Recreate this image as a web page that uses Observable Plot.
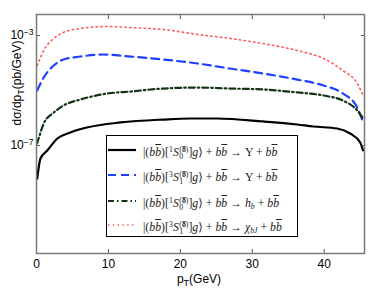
<!DOCTYPE html>
<html><head><meta charset="utf-8">
<script src="https://cdn.jsdelivr.net/npm/d3@7"></script>
<script src="https://cdn.jsdelivr.net/npm/@observablehq/plot@0.6"></script>
<style>
body{margin:0;background:#fff;}
#wrap{position:relative;width:374px;height:294px;font-family:"Liberation Sans",Arial,sans-serif;color:#000;}
#wrap svg{position:absolute;left:0;top:0;}
.lbl{position:absolute;white-space:nowrap;font-size:12px;}
.leg{position:absolute;left:106px;top:135px;width:192px;height:102px;border:1px solid #000;background:#fff;box-sizing:border-box;font-family:"Liberation Serif","DejaVu Serif",serif;font-size:11.8px;color:#222;}
.row{position:absolute;left:0;height:20px;width:190px;}
.row svg{position:absolute;left:5px;top:0;}
.row .t{position:absolute;left:36px;top:2px;white-space:nowrap;line-height:16px;}
.ov{text-decoration:overline;}
.ss{display:inline-flex;flex-direction:column;vertical-align:middle;font-size:7.8px;line-height:7.8px;margin-left:0.5px;font-style:normal;}
sup.p{font-size:7.8px;vertical-align:4px;}
sub.p{font-size:7.8px;vertical-align:-2px;}
</style>
</head><body>
<div id="wrap"></div>
<script>
// x grid (pT, GeV) for each curve
const redX   = [0.1, 1.0, 2.4, 3.75, 6.1, 9.9, 13.1, 17.6, 22.4, 26.9, 31.5, 36.25, 39.9, 42.6, 44.6, 45.4];
const redY   = [8.1e-5, 2.85e-4, 7.8e-4, 1.29e-3, 1.8e-3, 2.12e-3, 1.95e-3, 1.65e-3, 1.09e-3, 7.8e-4, 5.1e-4, 2.85e-4, 1.46e-4, 5.3e-5, 1.8e-5, 6.6e-6];
const blueX  = [0.1, 1.0, 2.4, 3.75, 6.1, 9.3, 13.1, 17.6, 22.4, 26.9, 31.5, 36.25, 39.9, 42.6, 44.6, 45.4];
const blueY  = [1.0e-5, 2.97e-5, 8.1e-5, 1.34e-4, 1.72e-4, 2.04e-4, 1.72e-4, 1.34e-4, 9.6e-5, 6.3e-5, 4.15e-5, 2.5e-5, 1.52e-5, 7.8e-6, 2.4e-6, 6.9e-7];
const greenX = [0.07, 0.3, 1.0, 2.4, 3.75, 6.1, 9.9, 13.1, 17.6, 22.4, 26.9, 31.5, 36.25, 39.9, 42.6, 44.6, 45.4];
const greenY = [1.18e-7, 1.8e-7, 6.3e-7, 1.58e-6, 2.85e-6, 4.7e-6, 7.8e-6, 9.2e-6, 1.18e-5, 1.28e-5, 1.18e-5, 1.09e-5, 8.5e-6, 6.6e-6, 4.3e-6, 1.87e-6, 9.6e-7];
const blackX = [0.1, 0.55, 1.5, 2.9, 4.7, 7.0, 11.7, 17.6, 21.4, 25.1, 31.5, 36.25, 38.5, 41.8, 43.6, 45.0, 45.4];
const blackY = [6.3e-9, 3.37e-8, 6.6e-8, 1.8e-7, 2.97e-7, 4.5e-7, 6.9e-7, 8.8e-7, 9.6e-7, 9.6e-7, 7.5e-7, 5.8e-7, 4.9e-7, 4.15e-7, 2.73e-7, 1.29e-7, 6.6e-8];

const xTicks = [0, 10, 20, 30, 40];
const yTicks = [1e-3, 1e-7];

const seriesNames = [
  '|(<i>b</i><i class="ov">b</i>)[<sup class="p">1</sup><i>S</i><span class="ss"><span>(<b>8</b>)</span><span>0</span></span>]<i>g</i>⟩ + <i>b</i><i class="ov">b</i> → Υ + <i>b</i><i class="ov">b</i>',
  '|(<i>b</i><i class="ov">b</i>)[<sup class="p">3</sup><i>S</i><span class="ss"><span>(<b>8</b>)</span><span>1</span></span>]<i>g</i>⟩ + <i>b</i><i class="ov">b</i> → Υ + <i>b</i><i class="ov">b</i>',
  '|(<i>b</i><i class="ov">b</i>)[<sup class="p">1</sup><i>S</i><span class="ss"><span>(<b>8</b>)</span><span>0</span></span>]<i>g</i>⟩ + <i>b</i><i class="ov">b</i> → <i>h</i><sub class="p"><i>b</i></sub> + <i>b</i><i class="ov">b</i>',
  '|(<i>b</i><i class="ov">b</i>)[<sup class="p">3</sup><i>S</i><span class="ss"><span>(<b>8</b>)</span><span>1</span></span>]<i>g</i>⟩ + <i>b</i><i class="ov">b</i> → <i>χ</i><sub class="p"><i>bJ</i></sub> + <i>b</i><i class="ov">b</i>'
];
const seriesColors = ["#000000", "#2040ff", "#143214", "#ff5a5a"];
const seriesDash = [null, "8,5", "6,3,1.5,3", "1.4,3.4"];
const seriesWidth = [2.2, 2.2, 2.2, 1.6];

const toRows = (xs, ys) => xs.map((x, i) => ({x, y: ys[i]}));
const sets = [toRows(blackX, blackY), toRows(blueX, blueY), toRows(greenX, greenY), toRows(redX, redY)];

const lineMarks = sets.map((d, i) => Plot.line(d, {
  x: "x", y: "y", curve: "monotone-x",
  stroke: seriesColors[i], strokeWidth: seriesWidth[i],
  strokeDasharray: seriesDash[i] ?? undefined
}));

const chart = Plot.plot({
  width: 374, height: 294,
  marginLeft: 36, marginRight: 10, marginTop: 14, marginBottom: 41,
  x: {domain: [0, 45.6]},
  y: {type: "log", domain: [Math.pow(10, -10.927), Math.pow(10, -2.236)]},
  style: {fontFamily: "Liberation Sans, Arial, sans-serif", fontSize: "12px", color: "#000", background: "transparent"},
  marks: [
    ...lineMarks,
    Plot.axisX({ticks: xTicks, anchor: "bottom", tickSize: -4, tickPadding: 10, tickFormat: d => String(d), label: null, stroke: "#555"}),
    Plot.axisX({ticks: xTicks, anchor: "top", tickSize: -4, tickFormat: () => "", label: null, stroke: "#555"}),
    Plot.axisY({ticks: yTicks, anchor: "left", tickSize: -4, tickPadding: 7, tickFormat: d => "10^" + Math.round(Math.log10(d)), label: null, stroke: "#555"}),
    Plot.axisY({ticks: yTicks, anchor: "right", tickSize: -4, tickFormat: () => "", label: null, stroke: "#555"}),
    Plot.frame({stroke: "#7a7a7a", strokeWidth: 1.5})
  ]
});

const wrap = document.getElementById("wrap");
wrap.appendChild(chart);

// superscript exponents on y tick labels
d3.select(chart).selectAll("text").each(function() {
  const s = this.textContent;
  if (s.startsWith("10^")) {
    const e = s.slice(3).replace("-", "−");
    const t = d3.select(this);
    t.text(null);
    t.append("tspan").text("10");
    t.append("tspan").attr("dy", "-0.5em").attr("font-size", "8.5px").text(e);
  }
});

// axis titles
const yl = document.createElement("div");
yl.className = "lbl";
yl.innerHTML = 'dσ/dp<sub style="font-size:9px">T</sub>(pb/GeV)';
yl.style.left = "18px"; yl.style.top = "83px";
yl.style.transform = "translate(-50%,-50%) rotate(-90deg)";
wrap.appendChild(yl);

const xl = document.createElement("div");
xl.className = "lbl";
xl.innerHTML = 'p<sub style="font-size:9px">T</sub>(GeV)';
xl.style.left = "199px"; xl.style.top = "280px";
xl.style.transform = "translate(-50%,-50%)";
wrap.appendChild(xl);

// legend
const leg = document.createElement("div");
leg.className = "leg";
const rowTops = [4, 29, 55, 79];
seriesNames.forEach((name, i) => {
  const r = document.createElement("div");
  r.className = "row";
  r.style.top = rowTops[i] + "px";
  r.innerHTML = `<svg width="30" height="20"><line x1="1" x2="29" y1="10" y2="10" stroke="${seriesColors[i]}" stroke-width="${seriesWidth[i]}" ${seriesDash[i] ? `stroke-dasharray="${seriesDash[i]}"` : ""}/></svg><span class="t">${name}</span>`;
  leg.appendChild(r);
});
wrap.appendChild(leg);
</script>
</body></html>
